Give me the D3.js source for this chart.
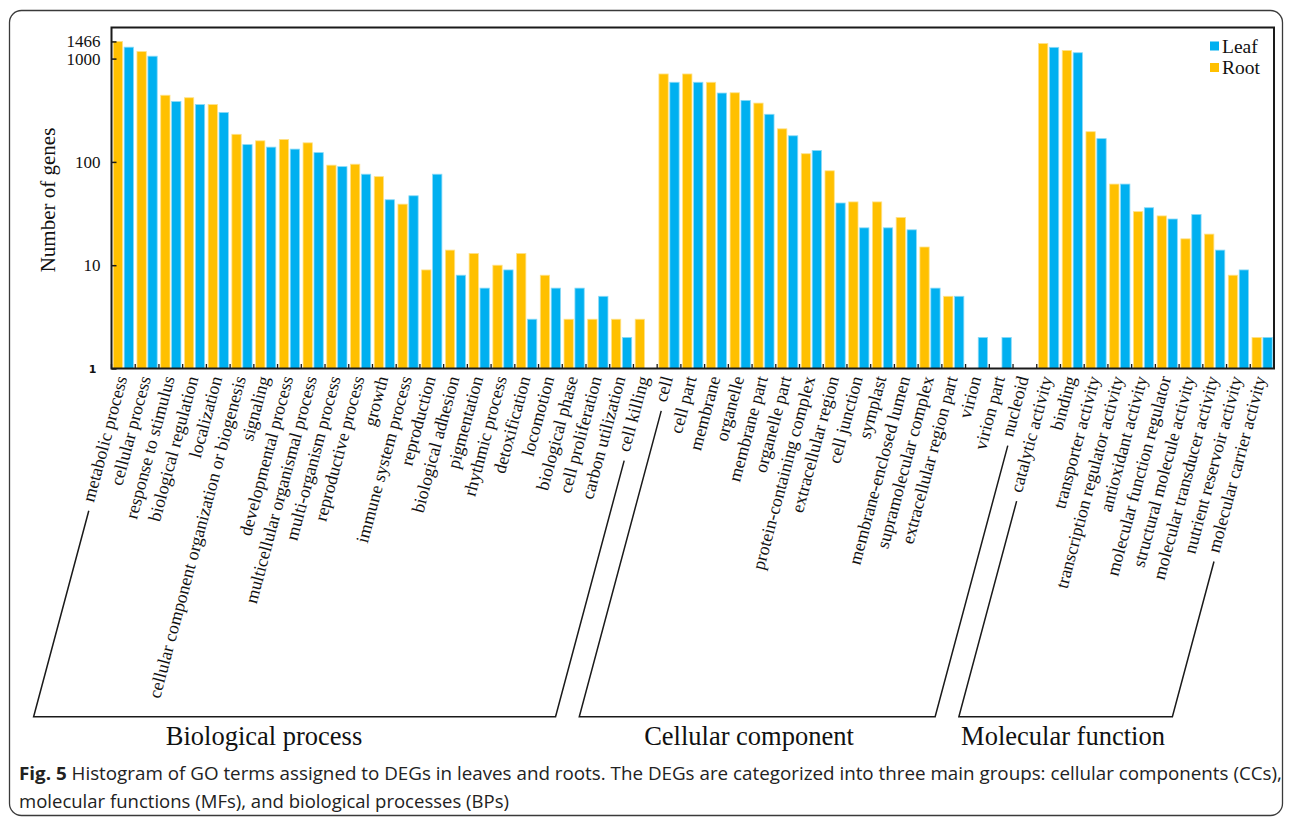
<!DOCTYPE html>
<html>
<head>
<meta charset="utf-8">
<script src="https://cdn.jsdelivr.net/npm/d3@7"></script>
<style>
  body { margin: 0; background: #fff; }
  svg { display: block; }
</style>
</head>
<body>
<svg id="chart" width="1293" height="820"></svg>
<script>
// GO term categories, in plotting order (BP, then CC, then MF)
const categories = [
  "metabolic process", "cellular process", "response to stimulus", "biological regulation",
  "localization", "cellular component organization or biogenesis", "signaling",
  "developmental process", "multicellular organismal process", "multi-organism process",
  "reproductive process", "growth", "immune system process", "reproduction",
  "biological adhesion", "pigmentation", "rhythmic process", "detoxification",
  "locomotion", "biological phase", "cell proliferation", "carbon utilization", "cell killing",
  "cell", "cell part", "membrane", "organelle", "membrane part", "organelle part",
  "protein-containing complex", "extracellular region", "cell junction", "symplast",
  "membrane-enclosed lumen", "supramolecular complex", "extracellular region part",
  "virion", "virion part", "nucleoid",
  "catalytic activity", "binding", "transporter activity", "transcription regulator activity",
  "antioxidant activity", "molecular function regulator", "structural molecule activity",
  "molecular transducer activity", "nutrient reservoir activity", "molecular carrier activity"
];

// Number of DEGs per term (0 = no genes, no bar drawn)
const rootCounts = [
  1466, 1170, 442, 418, 359, 185, 160, 165, 153, 93, 95, 72, 39, 9, 14, 13, 10, 13, 8, 3, 3, 3, 3,
  710, 710, 590, 467, 371, 209, 120, 82, 41, 41, 29, 15, 5, 0, 0, 0,
  1400, 1200, 196, 61, 33, 30, 18, 20, 8, 2
];
const leafCounts = [
  1290, 1055, 384, 359, 301, 147, 139, 133, 123, 90, 76, 43, 47, 76, 8, 6, 9, 3, 6, 6, 5, 2, 0,
  590, 590, 464, 394, 289, 179, 129, 40, 23, 23, 22, 6, 5, 2, 2, 0,
  1285, 1140, 168, 61, 36, 28, 31, 14, 9, 2
];

const seriesNames = ["Root", "Leaf"];
const legendOrder = ["Leaf", "Root"];
const groupNames = ["Biological process", "Cellular component", "Molecular function"];
const groupSizes = [23, 16, 10];
const yTickValues = [1, 10, 100, 1000, 1466];
const yTitle = "Number of genes";
const captionBold = "Fig. 5";
const captionLine1 = " Histogram of GO terms assigned to DEGs in leaves and roots. The DEGs are categorized into three main groups: cellular components (CCs),";
const captionLine2 = "molecular functions (MFs), and biological processes (BPs)";

// ---- layout ----
const colors = { Root: "#FFC000", Leaf: "#00B0F0" };
const edge = { Root: "#FFE28A", Leaf: "#8ADAF7" };
const serif = "'Liberation Serif', 'Times New Roman', serif";
const plot = { left: 111.5, right: 1274, top: 27.5, bottom: 368.5 };
const labelAngle = 75;
const bracketBottom = 716.7;
const groupTitleX = [264, 749, 1063];

const svg = d3.select("#chart");

// outer figure frame
svg.append("rect")
  .attr("x", 9.5).attr("y", 10.5).attr("width", 1273).attr("height", 805)
  .attr("rx", 12).attr("fill", "none").attr("stroke", "#3a3a3a").attr("stroke-width", 1.3);

const x = d3.scaleBand().domain(categories).range([plot.left, plot.right]).padding(0);
const xs = d3.scaleBand().domain(seriesNames).range([0, x.bandwidth()])
  .paddingInner(0.147).paddingOuter(0.16);
const y = d3.scaleLog().domain([1, 2000]).range([plot.bottom, plot.top]);

const rows = categories.map((c, i) => ({ cat: c, Root: rootCounts[i], Leaf: leafCounts[i] }));

// bars
const g = svg.append("g");
rows.forEach(r => {
  seriesNames.forEach(s => {
    const v = r[s];
    if (!v) return;
    g.append("rect")
      .attr("x", x(r.cat) + xs(s))
      .attr("y", y(v))
      .attr("width", xs.bandwidth())
      .attr("height", y(1) - y(v))
      .attr("fill", colors[s])
      .attr("stroke", edge[s])
      .attr("stroke-width", 0.8);
  });
});

// plot frame
svg.append("rect")
  .attr("x", plot.left).attr("y", plot.top)
  .attr("width", plot.right - plot.left).attr("height", plot.bottom - plot.top)
  .attr("fill", "none").attr("stroke", "#1a1a1a").attr("stroke-width", 2);

// y axis with inward ticks
const yAxis = svg.append("g")
  .attr("transform", `translate(${plot.left},0)`)
  .call(d3.axisLeft(y).tickValues(yTickValues).tickSize(-5).tickPadding(11).tickFormat(d3.format("d")));
yAxis.select(".domain").remove();
yAxis.selectAll(".tick line").attr("stroke", "#1a1a1a").attr("stroke-width", 1.5);
yAxis.selectAll(".tick text")
  .attr("fill", "#111")
  .style("font-family", serif).style("font-size", "17px");
yAxis.selectAll(".tick text").filter(d => d === 1)
  .style("font-family", "'DejaVu Sans', sans-serif").style("font-size", "11px")
  .style("font-weight", "bold").attr("dx", -4);

// x ticks at category boundaries, pointing inward
const bounds = categories.map(c => x(c)).concat([plot.right]);
svg.append("g").selectAll("line").data(bounds).join("line")
  .attr("x1", d => d).attr("x2", d => d)
  .attr("y1", plot.bottom).attr("y2", plot.bottom - 4.5)
  .attr("stroke", "#1a1a1a").attr("stroke-width", 1.3);

// rotated category labels
const rad = labelAngle * Math.PI / 180;
const dir = [-Math.cos(rad), Math.sin(rad)];
const anchors = [];
const labelG = svg.append("g");
categories.forEach((c, i) => {
  const ax = x(c) + x.bandwidth() / 2 + 4;
  const ay = plot.bottom + 9.5;
  const t = labelG.append("text")
    .attr("transform", `translate(${ax},${ay}) rotate(${-labelAngle})`)
    .attr("text-anchor", "end")
    .style("font-family", serif).style("font-size", "18px").attr("fill", "#111")
    .text(c);
  anchors.push({ ax, ay, len: t.node().getComputedTextLength() });
});

// group brackets following the first and last label of each group
function lineEnds(a) {
  const gap = 8, shift = -3;
  const tx = a.ax + (a.len + gap) * dir[0] + shift;
  const ty = a.ay + (a.len + gap) * dir[1];
  const k = (bracketBottom - ty) / dir[1];
  return { top: [tx, ty], bottom: [tx + k * dir[0], bracketBottom] };
}
let start = 0;
groupSizes.forEach((n, gi) => {
  const first = lineEnds(anchors[start]);
  const last = lineEnds(anchors[start + n - 1]);
  const path = d3.path();
  path.moveTo(...first.top);
  path.lineTo(...first.bottom);
  path.lineTo(...last.bottom);
  path.lineTo(...last.top);
  svg.append("path").attr("d", path.toString())
    .attr("fill", "none").attr("stroke", "#1a1a1a").attr("stroke-width", 1.5);
  svg.append("text")
    .attr("x", groupTitleX[gi]).attr("y", 745)
    .attr("text-anchor", "middle")
    .style("font-family", serif).style("font-size", "26.5px").attr("fill", "#111")
    .text(groupNames[gi]);
  start += n;
});

// y axis title
svg.append("text")
  .attr("transform", "translate(55,200) rotate(-90)")
  .attr("text-anchor", "middle")
  .style("font-family", serif).style("font-size", "21px").attr("fill", "#111")
  .text(yTitle);

// legend
legendOrder.forEach((s, i) => {
  const ly = 46 + i * 21.5;
  svg.append("rect").attr("x", 1210).attr("y", ly - 4.5).attr("width", 9).attr("height", 9)
    .attr("fill", colors[s]);
  svg.append("text").attr("x", 1222).attr("y", ly + 6.5)
    .style("font-family", serif).style("font-size", "19.5px").attr("fill", "#111")
    .text(s);
});

// caption
const sans = "'Open Sans', 'Noto Sans', sans-serif";
const cap1 = svg.append("text").attr("x", 19).attr("y", 780)
  .attr("textLength", 1263).attr("lengthAdjust", "spacingAndGlyphs")
  .style("font-family", sans).style("font-size", "18px").attr("fill", "#222");
cap1.append("tspan").style("font-weight", "bold").text(captionBold);
cap1.append("tspan").text(captionLine1);
svg.append("text").attr("x", 19).attr("y", 808)
  .attr("textLength", 490).attr("lengthAdjust", "spacingAndGlyphs")
  .style("font-family", sans).style("font-size", "18px").attr("fill", "#222")
  .text(captionLine2);
</script>
</body>
</html>
